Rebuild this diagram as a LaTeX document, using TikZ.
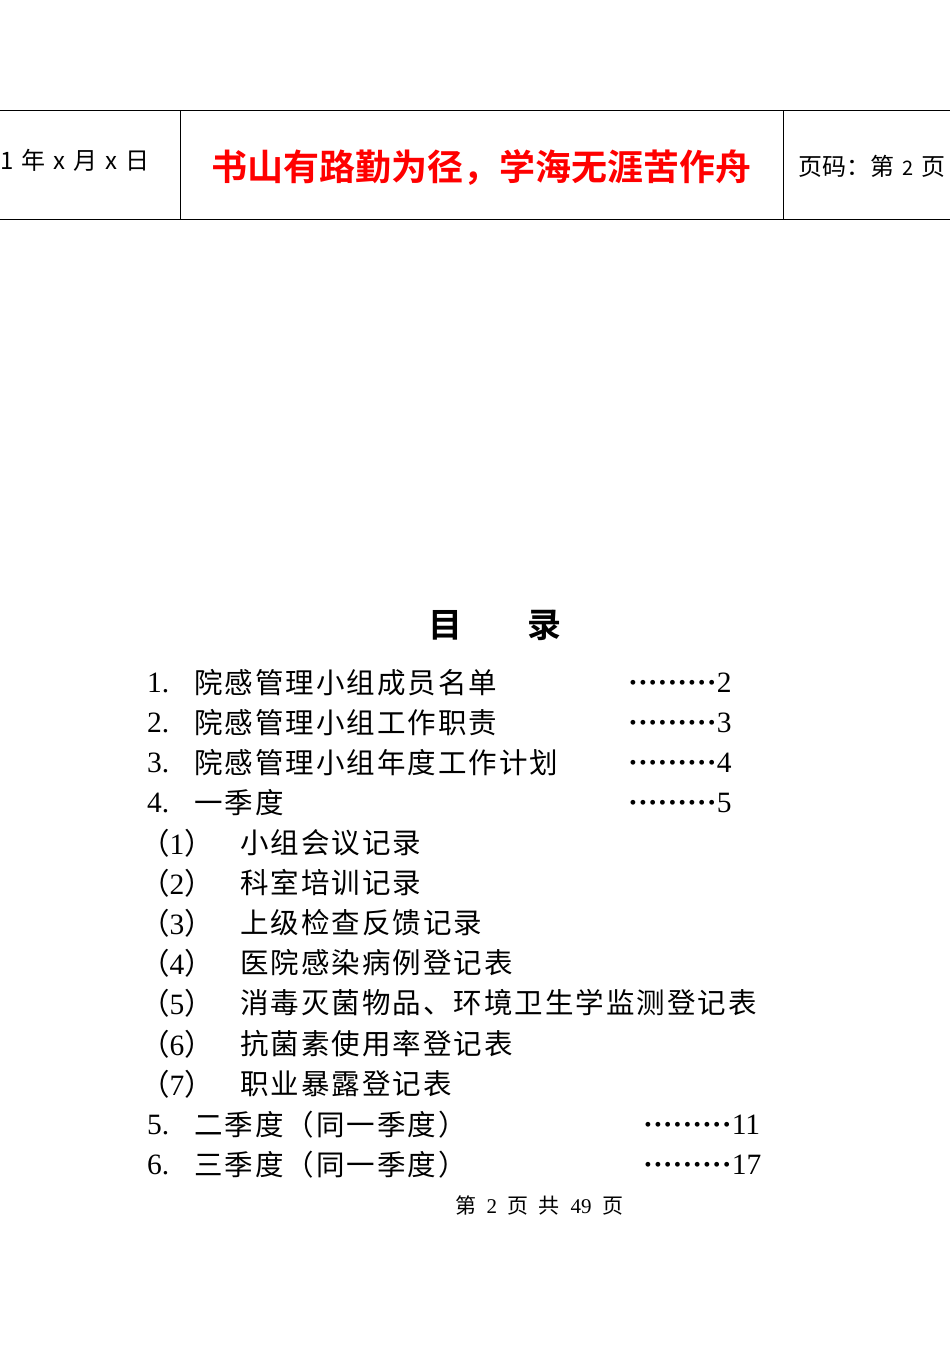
\documentclass[tikz,border=0pt]{standalone}
\usepackage{fontspec}
\setmainfont{Liberation Serif}
\newfontfamily\cjk{Noto Sans CJK SC}
\newfontfamily\cjkb{Noto Sans CJK SC Bold}
\begin{document}
\begin{tikzpicture}[x=1pt,y=-1pt,
  toc/.style={anchor=west,inner sep=0pt,font=\fontsize{29.5}{30}\selectfont},
  ctoc/.style={anchor=west,inner sep=0pt,font=\cjk\fontsize{28.5}{30}\selectfont\addfontfeature{LetterSpace=7}},
  hd/.style={anchor=west,inner sep=0pt,font=\cjk\fontsize{24}{26}\selectfont}]
\useasboundingbox (0,0) rectangle (950,1346);
\clip (0,0) rectangle (950,1346);
\draw[line width=1pt] (0,110) coordinate (tl) -- (950,110) coordinate (tr);
\draw[line width=1pt] (0,219) coordinate (bl) -- (950,219) coordinate (br);
\draw[line width=1pt] (180,110) coordinate (v1a) -- (180,219) coordinate (v1b);
\draw[line width=1pt] (783,110) coordinate (v2a) -- (783,219) coordinate (v2b);
\node[hd] (date) at (0,160) {1\,\,年\,\,x\,\,月\,\,x\,\,日};
\node[anchor=center,inner sep=0pt,text=red,font=\cjkb\fontsize{36}{38}\selectfont] (motto) at (481,168) {书山有路勤为径，学海无涯苦作舟};
\node[hd] (page) at (798,166) {页码：第\,\,{\fontsize{20}{22}\selectfont 2}\,\,页};
\node[inner sep=0pt,font=\cjkb\fontsize{34}{36}\selectfont] (title) at (495,625) {目\hspace{1.9em}录};
\foreach \n/\num/\t/\y/\dx/\p in {a/1./院感管理小组成员名单/683/628/2,b/2./院感管理小组工作职责/723/628/3,c/3./院感管理小组年度工作计划/763/628/4,d/4./一季度/803/628/5,e/5./二季度（同一季度）/1125/643/11,f/6./三季度（同一季度）/1165/643/17}{
  \node[toc] (num\n) at (147,\y) {\num};
  \node[ctoc] (txt\n) at (194,\y) {\t};
  \node[toc] (dot\n) at (\dx,\y) {\textbf{·········}\p};
}
\foreach \n/\k/\t/\y in {g/1/小组会议记录/843,h/2/科室培训记录/883,i/3/上级检查反馈记录/923,j/4/医院感染病例登记表/963,k/5/消毒灭菌物品、环境卫生学监测登记表/1003,l/6/抗菌素使用率登记表/1044,m/7/职业暴露登记表/1084}{
  \node[toc] (sn\n) at (140,\y) {{\cjk （}\k{\cjk ）}};
  \node[ctoc] (st\n) at (240,\y) {\t};
}
\node[inner sep=0pt,font=\fontsize{21}{23}\selectfont] (foot) at (539,1205) {{\cjk 第}\enspace 2\enspace{\cjk 页\enspace 共}\enspace 49\enspace{\cjk 页}};
\end{tikzpicture}
\end{document}
